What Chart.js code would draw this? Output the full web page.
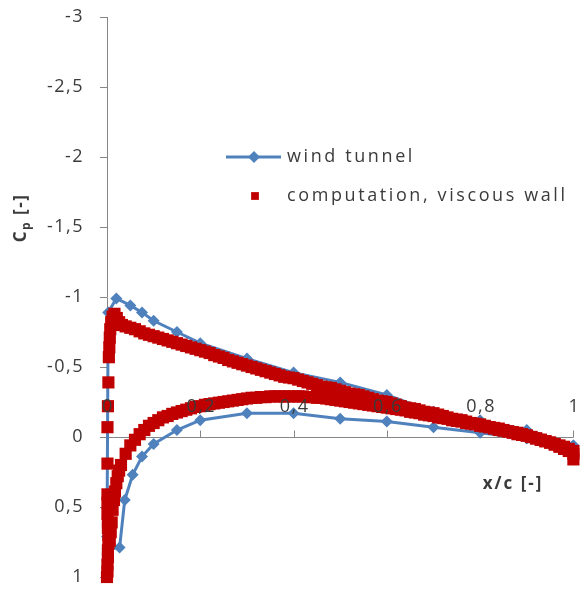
<!DOCTYPE html>
<html>
<head>
<meta charset="utf-8">
<script src="https://cdn.jsdelivr.net/npm/chart.js@4.4.0/dist/chart.umd.min.js"></script>
<style>
  html, body { margin: 0; background: #fff; }
  canvas { display: block; }
</style>
</head>
<body>
<canvas id="cp-chart" width="582" height="589"></canvas>
<script>
// Wind tunnel taps: upper surface trailing edge -> leading edge, then lower surface back to the trailing edge
const tunnelX  = [1.0, 0.9, 0.8, 0.7, 0.6, 0.5, 0.4, 0.3, 0.2, 0.15, 0.1, 0.075, 0.05, 0.02, 0.0025,
                  0.0, 0.001, 0.027, 0.038, 0.055, 0.075, 0.1, 0.15, 0.2, 0.3, 0.4, 0.5, 0.6, 0.7, 0.8, 0.9, 1.0]
const tunnelCp = [0.06, -0.05, -0.12, -0.18, -0.30, -0.39, -0.46, -0.56, -0.67, -0.75, -0.83, -0.89, -0.94, -0.99, -0.89,
                  0.71, 0.80, 0.79, 0.45, 0.27, 0.14, 0.05, -0.05, -0.12, -0.17, -0.17, -0.13, -0.11, -0.07, -0.03, 0.01, 0.06]

// Computation, viscous wall — suction side (leading edge cluster, then along the chord)
const compUpperX  = [0.001, 0.002, 0.003, 0.004, 0.005, 0.006, 0.007, 0.009, 0.012, 0.016, 0.021, 0.026, 0.032,
  0.04, 0.05, 0.06, 0.07, 0.08, 0.09, 0.10, 0.11, 0.12, 0.13, 0.14, 0.15, 0.16, 0.17, 0.18, 0.19,
  0.20, 0.21, 0.22, 0.23, 0.24, 0.25, 0.26, 0.27, 0.28, 0.29, 0.30, 0.31, 0.32, 0.33, 0.34, 0.35,
  0.36, 0.37, 0.38, 0.39, 0.40, 0.41, 0.42, 0.43, 0.44, 0.45, 0.46, 0.47, 0.48, 0.49, 0.50, 0.51,
  0.52, 0.53, 0.54, 0.55, 0.56, 0.57, 0.58, 0.59, 0.60, 0.61, 0.62, 0.63, 0.64, 0.65, 0.66, 0.67,
  0.68, 0.69, 0.70, 0.71, 0.72, 0.73, 0.74, 0.75, 0.76, 0.77, 0.78, 0.79, 0.80, 0.81, 0.82, 0.83,
  0.84, 0.85, 0.86, 0.87, 0.88, 0.89, 0.90, 0.91, 0.92, 0.93, 0.94, 0.95, 0.96, 0.97, 0.98, 0.99, 1.00]
const compUpperCp = [-0.07, -0.22, -0.39, -0.57, -0.64, -0.71, -0.77, -0.82, -0.86, -0.88, -0.85, -0.82, -0.80,
  -0.79, -0.78, -0.77, -0.755, -0.74, -0.73, -0.72, -0.71, -0.70, -0.69, -0.68, -0.67, -0.66, -0.65, -0.64, -0.63,
  -0.62, -0.61, -0.60, -0.585, -0.575, -0.565, -0.55, -0.54, -0.53, -0.52, -0.51, -0.50, -0.49, -0.48, -0.47, -0.46,
  -0.45, -0.44, -0.43, -0.425, -0.42, -0.41, -0.40, -0.39, -0.38, -0.37, -0.36, -0.355, -0.35, -0.34, -0.33, -0.32,
  -0.31, -0.305, -0.30, -0.29, -0.28, -0.27, -0.26, -0.255, -0.25, -0.24, -0.23, -0.22, -0.21, -0.205, -0.20, -0.19,
  -0.18, -0.175, -0.17, -0.16, -0.15, -0.14, -0.13, -0.125, -0.12, -0.11, -0.10, -0.095, -0.09, -0.08, -0.07, -0.065,
  -0.06, -0.05, -0.04, -0.035, -0.03, -0.02, -0.01, 0.00, 0.01, 0.02, 0.03, 0.04, 0.05, 0.06, 0.07, 0.085, 0.10]

// Computation, viscous wall — pressure side (stagnation region, then along the chord)
const compLowerX  = [0.000, 0.001, 0.001, 0.002, 0.002, 0.003, 0.003, 0.002, 0.002, 0.001, 0.001, 0.001,
  0.006, 0.008, 0.010, 0.012, 0.015, 0.017, 0.020, 0.023, 0.026,
  0.03, 0.04, 0.05, 0.06, 0.07, 0.08, 0.09, 0.10, 0.11, 0.12, 0.13, 0.14, 0.15, 0.16, 0.17, 0.18, 0.19,
  0.20, 0.21, 0.22, 0.23, 0.24, 0.25, 0.26, 0.27, 0.28, 0.29, 0.30, 0.31, 0.32, 0.33, 0.34, 0.35,
  0.36, 0.37, 0.38, 0.39, 0.40, 0.41, 0.42, 0.43, 0.44, 0.45, 0.46, 0.47, 0.48, 0.49, 0.50, 0.51,
  0.52, 0.53, 0.54, 0.55, 0.56, 0.57, 0.58, 0.59, 0.60, 0.61, 0.62, 0.63, 0.64, 0.65, 0.66, 0.67,
  0.68, 0.69, 0.70, 0.71, 0.72, 0.73, 0.74, 0.75, 0.76, 0.77, 0.78, 0.79, 0.80, 0.81, 0.82, 0.83,
  0.84, 0.85, 0.86, 0.87, 0.88, 0.89, 0.90, 0.91, 0.92, 0.93, 0.94, 0.95, 0.96, 0.97, 0.98, 0.99, 1.00, 1.00]
const compLowerCp = [1.00, 0.96, 0.91, 0.86, 0.81, 0.76, 0.70, 0.65, 0.61, 0.55, 0.47, 0.41,
  0.74, 0.68, 0.61, 0.52, 0.45, 0.39, 0.33, 0.28, 0.24,
  0.20, 0.12, 0.06, 0.02, -0.02, -0.05, -0.08, -0.10, -0.12, -0.14, -0.15, -0.165, -0.175, -0.185, -0.195, -0.205, -0.215,
  -0.22, -0.23, -0.235, -0.24, -0.245, -0.25, -0.255, -0.26, -0.265, -0.27, -0.275, -0.28, -0.28, -0.285, -0.285, -0.29,
  -0.29, -0.29, -0.29, -0.29, -0.29, -0.29, -0.29, -0.285, -0.285, -0.28, -0.28, -0.275, -0.27, -0.265, -0.26, -0.255,
  -0.25, -0.245, -0.24, -0.235, -0.23, -0.225, -0.22, -0.215, -0.21, -0.205, -0.20, -0.195, -0.19, -0.18, -0.175, -0.17,
  -0.16, -0.155, -0.15, -0.14, -0.135, -0.13, -0.12, -0.115, -0.11, -0.10, -0.095, -0.09, -0.08, -0.075, -0.07, -0.06,
  -0.05, -0.045, -0.04, -0.03, -0.02, -0.015, -0.01, 0.00, 0.01, 0.02, 0.03, 0.04, 0.055, 0.07, 0.085, 0.10, 0.12, 0.16]

// isolated square on the chord line near the leading edge
const compNoseX  = [0.001]
const compNoseCp = [0.19]

const xTicks = [0, 0.2, 0.4, 0.6, 0.8, 1]
const yTicks = [-3, -2.5, -2, -1.5, -1, -0.5, 0, 0.5, 1]

const blue = "#4f81bd"
const red = "#c00000"
const axisGray = "#868686"
const textColor = "#3b3b3b"
const font = "'Open Sans', sans-serif"

const pts = (xs, ys) => xs.map((x, i) => ({ x, y: ys[i] }))
const fmt = v => String(v).replace(".", ",")

function spacedText(ctx, text, x, y, spacing) {
  ctx.letterSpacing = spacing + "px"
  ctx.fillText(text, x, y)
  ctx.letterSpacing = "0px"
}

// axis line at Cp = 0 and its tick marks, under the markers
const axisUnder = {
  id: "axisUnder",
  beforeDatasetsDraw(chart) {
    const { ctx, scales: { x, y } } = chart
    const y0 = Math.round(y.getPixelForValue(0)) + 0.5
    ctx.save()
    ctx.strokeStyle = axisGray
    ctx.lineWidth = 1
    ctx.beginPath()
    ctx.moveTo(x.getPixelForValue(0), y0)
    ctx.lineTo(x.getPixelForValue(1), y0)
    xTicks.forEach(v => {
      const px = Math.round(x.getPixelForValue(v)) + 0.5
      ctx.moveTo(px, y0)
      ctx.lineTo(px, y0 - 7)
    })
    ctx.stroke()
    ctx.restore()
  }
}

// tick labels, axis titles and legend on top
const labelsOver = {
  id: "labelsOver",
  afterDraw(chart) {
    const { ctx, scales: { x, y } } = chart
    ctx.save()
    ctx.fillStyle = textColor
    ctx.font = `18px ${font}`
    ctx.textBaseline = "middle"

    ctx.textAlign = "right"
    yTicks.forEach(v => spacedText(ctx, fmt(v), 84, y.getPixelForValue(v), 1.5))

    ctx.textAlign = "center"
    const y0 = y.getPixelForValue(0)
    xTicks.forEach(v => spacedText(ctx, fmt(v), x.getPixelForValue(v) + 1, y0 - 30, 1.5))

    // x/c [-]
    ctx.font = `bold 17px ${font}`
    ctx.textAlign = "center"
    spacedText(ctx, "x/c [-]", 513, 484, 2)

    // Cp [-] rotated, with subscript p
    ctx.translate(20, 218)
    ctx.rotate(-Math.PI / 2)
    ctx.textAlign = "left"
    ctx.textBaseline = "alphabetic"
    ctx.letterSpacing = "1.5px"
    ctx.font = `bold 17px ${font}`
    const cW = ctx.measureText("C").width
    const tail = " [-]"
    const tailW = ctx.measureText(tail).width
    ctx.font = `bold 12px ${font}`
    const pW = ctx.measureText("p").width
    let cx = -(cW + pW + tailW) / 2
    ctx.font = `bold 17px ${font}`
    ctx.fillText("C", cx, 6)
    cx += cW
    ctx.font = `bold 12px ${font}`
    ctx.fillText("p", cx, 10)
    cx += pW
    ctx.font = `bold 17px ${font}`
    ctx.fillText(tail, cx, 6)
    ctx.letterSpacing = "0px"
    ctx.setTransform(1, 0, 0, 1, 0, 0)

    // legend
    ctx.font = `18px ${font}`
    ctx.textAlign = "left"
    ctx.textBaseline = "middle"
    ctx.strokeStyle = blue
    ctx.lineWidth = 3
    ctx.beginPath()
    ctx.moveTo(226, 157)
    ctx.lineTo(281, 157)
    ctx.stroke()
    ctx.fillStyle = blue
    Chart.helpers.drawPoint(ctx, { pointStyle: "rectRot", radius: 6, borderWidth: 0 }, 254, 157)
    ctx.fillStyle = red
    Chart.helpers.drawPoint(ctx, { pointStyle: "rect", radius: 5.5, borderWidth: 0 }, 255, 196)
    ctx.fillStyle = textColor
    spacedText(ctx, "wind tunnel", 287, 157, 2.6)
    spacedText(ctx, "computation, viscous wall", 287, 196, 2.6)
    ctx.restore()
  }
}

new Chart(document.getElementById("cp-chart"), {
  type: "scatter",
  data: {
    datasets: [
      {
        label: "computation, viscous wall",
        data: pts(compUpperX, compUpperCp)
          .concat(pts(compLowerX, compLowerCp))
          .concat(pts(compNoseX, compNoseCp)),
        showLine: false,
        pointStyle: "rect",
        pointRadius: 8.6,
        pointBorderWidth: 0,
        backgroundColor: red,
        borderColor: red,
        clip: false
      },
      {
        label: "wind tunnel",
        data: pts(tunnelX, tunnelCp),
        showLine: true,
        borderColor: blue,
        borderWidth: 3,
        pointStyle: "rectRot",
        pointRadius: 6,
        pointBorderWidth: 0,
        backgroundColor: blue,
        tension: 0,
        clip: false
      }
    ]
  },
  options: {
    responsive: false,
    animation: false,
    events: [],
    layout: { padding: { top: 17, right: 7, bottom: 12, left: 0 } },
    plugins: { legend: { display: false }, tooltip: { enabled: false } },
    scales: {
      x: { type: "linear", min: 0, max: 1, display: false },
      y: {
        type: "linear",
        min: -3,
        max: 1,
        reverse: true,
        position: "left",
        afterFit: s => { s.width = 107 },
        afterBuildTicks: s => { s.ticks = yTicks.map(v => ({ value: v })) },
        border: { color: axisGray, width: 1 },
        grid: { drawOnChartArea: false, drawTicks: true, tickLength: 7, color: axisGray },
        ticks: { display: false }
      }
    }
  },
  plugins: [axisUnder, labelsOver]
})
</script>
</body>
</html>
